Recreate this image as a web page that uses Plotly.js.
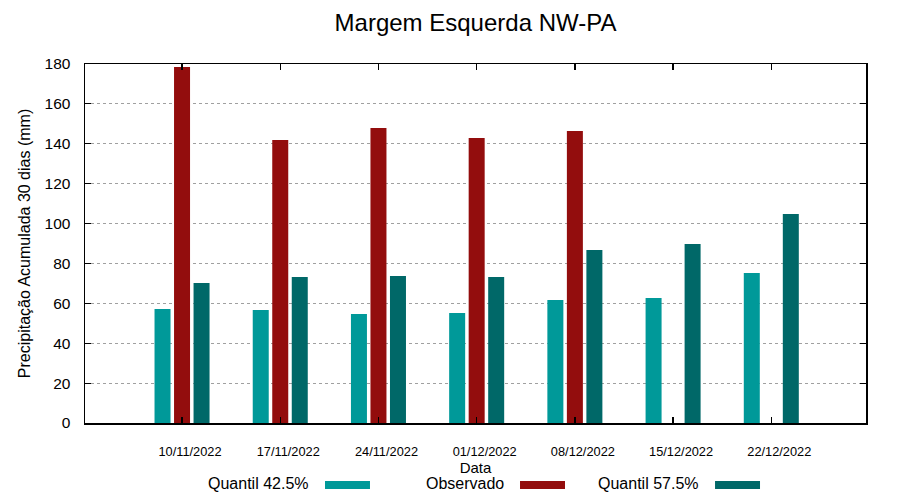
<!DOCTYPE html>
<html>
<head>
<meta charset="utf-8">
<script src="https://cdn.plot.ly/plotly-3.0.1.min.js"></script>
<style>html,body{margin:0;padding:0;background:#fff;}#chart{width:900px;height:500px;}</style>
</head>
<body>
<div id="chart"></div>
<script>
const dates = ['2022-11-10','2022-11-17','2022-11-24','2022-12-01','2022-12-08','2022-12-15','2022-12-22'];
const tickLabels = ['10/11/2022','17/11/2022','24/11/2022','01/12/2022','08/12/2022','15/12/2022','22/12/2022'];
const quantil425 = [57.2, 56.7, 54.7, 55.2, 61.7, 62.7, 75.2];
const observado = [178.5, 141.9, 147.9, 142.9, 146.4, null, null];
const quantil575 = [70.2, 73.2, 73.7, 73.2, 86.7, 89.7, 104.8];
const seriesNames = ['Quantil 42.5%', 'Observado', 'Quantil 57.5%'];
const seriesColors = ['#009999', '#930d0d', '#006868'];

const font = 'Liberation Sans, Arial, sans-serif';
const traces = [quantil425, observado, quantil575].map((vals, i) => ({
  type: 'bar', x: dates, y: vals, name: seriesNames[i],
  marker: {color: seriesColors[i], line: {width: 0}}, showlegend: false
}));

// custom legend: text followed by swatch (gnuplot style)
const legendText = [0.2894, 0.539, 0.7887];
const legendBox = [[0.3073, 0.3649], [0.557, 0.6146], [0.8067, 0.8643]];
const annotations = seriesNames.map((n, i) => ({
  xref: 'paper', yref: 'paper', x: legendText[i], y: -0.169, xanchor: 'right', yanchor: 'middle',
  text: n, showarrow: false, font: {family: font, size: 16, color: '#000'}
}));
const shapes = legendBox.map((b, i) => ({
  type: 'rect', xref: 'paper', yref: 'paper', x0: b[0], x1: b[1], y0: -0.1616, y1: -0.1838,
  fillcolor: seriesColors[i], line: {width: 0}
}));

const layout = {
  width: 900, height: 500,
  margin: {l: 85, r: 34, t: 64, b: 77},
  paper_bgcolor: '#fff', plot_bgcolor: '#fff',
  font: {family: font, color: '#000'},
  title: {text: 'Margem Esquerda NW-PA', font: {family: font, size: 24, color: '#000'},
          xref: 'paper', x: 0.5, xanchor: 'center', yref: 'container', y: 0.954, yanchor: 'middle'},
  barmode: 'group', bargap: 0.404, bargroupgap: 0.18,
  xaxis: {
    type: 'date', range: ['2022-11-03 02:00', '2022-12-28 18:00'],
    tickmode: 'array', tickvals: dates, ticktext: tickLabels,
    ticks: 'inside', ticklen: 6, tickcolor: '#000', tickwidth: 1.5,
    showline: true, linecolor: '#000', linewidth: 1.5, mirror: 'ticks',
    showgrid: false, zeroline: false,
    tickfont: {family: font, size: 12.8, color: '#000'},
    ticklabelstandoff: 16, ticklabelshift: 8,
    title: {text: 'Data', font: {family: font, size: 15, color: '#000'}, standoff: 3},
    automargin: false, fixedrange: true
  },
  yaxis: {
    range: [0, 180], tickmode: 'array', tickvals: [0,20,40,60,80,100,120,140,160,180],
    ticks: 'inside', ticklen: 6, tickcolor: '#000', tickwidth: 1,
    showline: true, linecolor: '#000', linewidth: 1.5, mirror: 'ticks',
    showgrid: true, gridcolor: '#a0a0a0', gridwidth: 1, griddash: '3px,3px',
    zeroline: false,
    tickfont: {family: font, size: 15.5, color: '#000'},
    ticklabelstandoff: 10,
    title: {text: 'Precipitação Acumulada 30 dias (mm)', font: {family: font, size: 16, color: '#000'}, standoff: 10},
    automargin: false, fixedrange: true
  },
  annotations: annotations, shapes: shapes
};

Plotly.newPlot('chart', traces, layout, {displayModeBar: false, staticPlot: true});
</script>
</body>
</html>
